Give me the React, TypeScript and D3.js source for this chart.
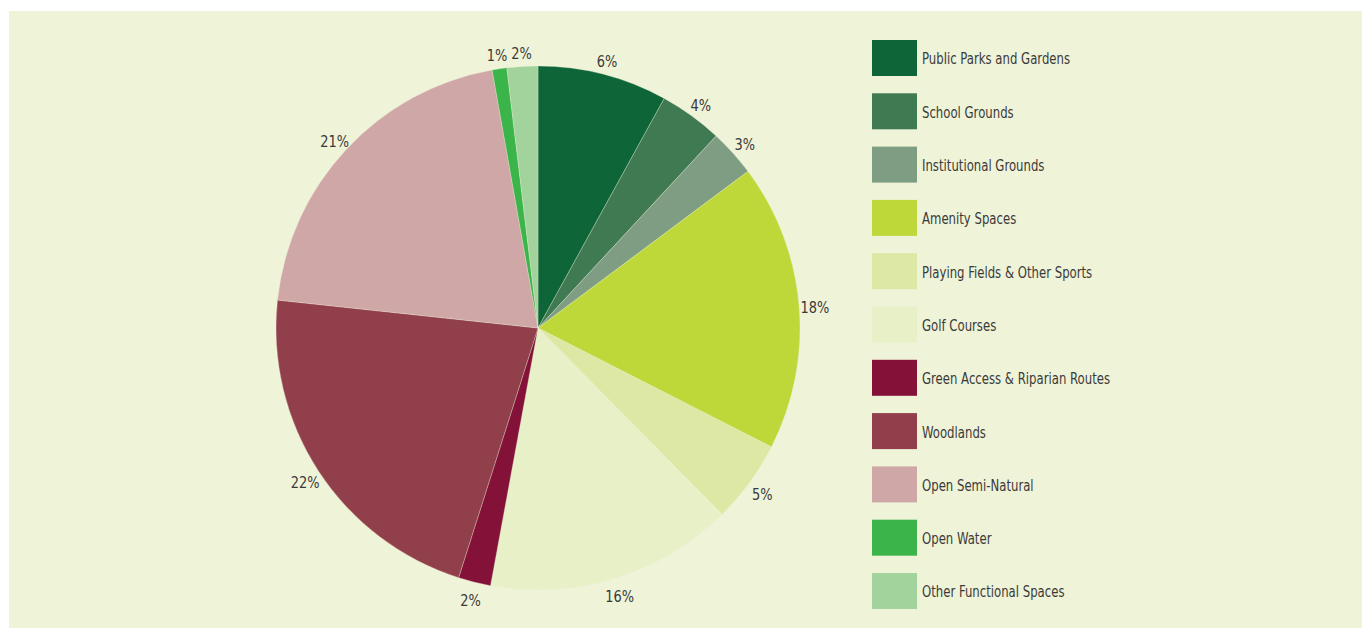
import React from "react";
import * as d3 from "d3";

const categories = [
  "Public Parks and Gardens",
  "School Grounds",
  "Institutional Grounds",
  "Amenity Spaces",
  "Playing Fields & Other Sports",
  "Golf Courses",
  "Green Access & Riparian Routes",
  "Woodlands",
  "Open Semi-Natural",
  "Open Water",
  "Other Functional Spaces",
];
// slice shares as drawn in the picture
const shares = [8.0, 3.9, 2.9, 17.7, 5.1, 15.3, 2.0, 21.8, 20.5, 0.9, 1.9];
// percentage labels as printed
const labels = ["6%", "4%", "3%", "18%", "5%", "16%", "2%", "22%", "21%", "1%", "2%"];
const colors = [
  "#0e6638",
  "#3f7a52",
  "#7f9d83",
  "#bed83a",
  "#dce8a4",
  "#e8f0c8",
  "#841238",
  "#903f4b",
  "#cfa7a7",
  "#3bb44a",
  "#a3d39c",
];

const W = 1362;
const H = 628;
const cx = 538;
const cy = 328;
const R = 262;
const FONT = "'Liberation Sans Narrow', 'Arial Narrow', 'DejaVu Sans Condensed', sans-serif";

export default function App() {
  const data = categories.map((c, i) => ({ c, v: shares[i], l: labels[i], col: colors[i] }));
  const pie = d3.pie<any>().value((d) => d.v).sort(null);
  const arcs = pie(data);
  const arc = d3.arc<any>().innerRadius(0).outerRadius(R);
  const labelArc = d3.arc<any>().innerRadius(278).outerRadius(278);
  const legendY = d3.scaleLinear().domain([0, categories.length - 1]).range([58, 591]);

  return (
    <svg
      width={W}
      height={H}
      style={{ position: "absolute", left: 0, top: 0, display: "block" }}
    >
      <rect x={9} y={11} width={W - 9} height={H - 11} fill="#eff3d8" />
      <g transform={`translate(${cx},${cy})`}>
        {arcs.map((a, i) => (
          <path key={i} d={arc(a) as string} fill={a.data.col} stroke="#eff3d8" strokeWidth={0.3} />
        ))}
        {arcs.map((a, i) => {
          const [x, y] = labelArc.centroid(a);
          return (
            <g key={"l" + i} transform={`translate(${x},${y + 3}) scale(0.9,1)`}>
              <text
                textAnchor="middle"
                dominantBaseline="central"
                fontFamily={FONT}
                fontSize={16}
                fill="#3a3a3a"
              >
                {a.data.l}
              </text>
            </g>
          );
        })}
      </g>
      <g>
        {categories.map((c, i) => (
          <g key={c} transform={`translate(872,${legendY(i)})`}>
            <rect x={0} y={-18} width={45} height={36} fill={colors[i]} />
            <g transform="translate(50,1) scale(0.84,1)">
              <text
                x={0}
                y={0}
                dominantBaseline="central"
                fontFamily={FONT}
                fontSize={15.5}
                fill="#3a3a3a"
              >
                {c}
              </text>
            </g>
          </g>
        ))}
      </g>
    </svg>
  );
}
